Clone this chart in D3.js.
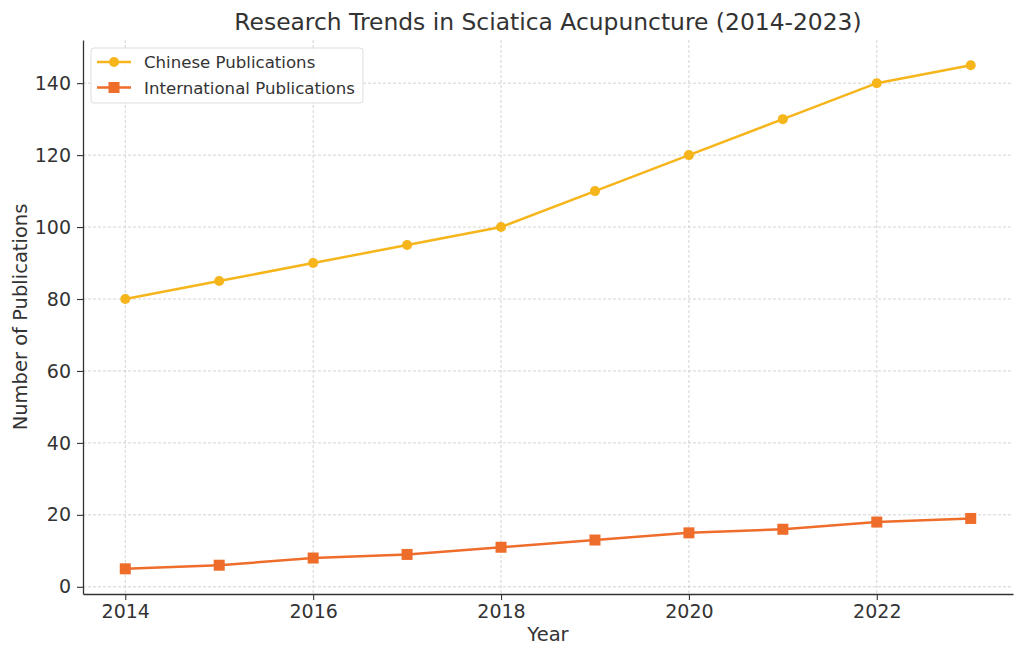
<!DOCTYPE html>
<html><head><meta charset="utf-8">
<script src="https://cdn.jsdelivr.net/npm/d3@7"></script>
<style>
body{margin:0;background:#fff;}
text{font-family:"DejaVu Sans",sans-serif;}
</style></head>
<body><svg id="c" width="1024" height="658"></svg>
<script>
const years = [2014,2015,2016,2017,2018,2019,2020,2021,2022,2023];
const chinese = [80,85,90,95,100,110,120,130,140,145];
const international = [5,6,8,9,11,13,15,16,18,19];
const xTicks = [2014,2016,2018,2020,2022];
const yTicks = [0,20,40,60,80,100,120,140];
const seriesNames = ["Chinese Publications","International Publications"];
const colors = ["#F5B51B","#EE6D2B"];

const svg = d3.select("#c");
const L=83,R=1013,T=40,B=594;
const x = d3.scaleLinear().domain([2014-0.45,2023+0.45]).range([L,R]);
const y = d3.scaleLinear().domain([-2,152]).range([B,T]);
const txt="#333";

// grid
svg.append("g").selectAll("line").data(xTicks).join("line")
  .attr("x1",d=>x(d)).attr("x2",d=>x(d)).attr("y1",T).attr("y2",B)
  .attr("stroke","#c8c8c8").attr("stroke-width",0.8).attr("stroke-dasharray","3,2");
svg.append("g").selectAll("line").data(yTicks).join("line")
  .attr("y1",d=>y(d)).attr("y2",d=>y(d)).attr("x1",L).attr("x2",R)
  .attr("stroke","#c8c8c8").attr("stroke-width",0.8).attr("stroke-dasharray","3,2");

// axes
const xa = svg.append("g").attr("transform",`translate(0,${B})`)
  .call(d3.axisBottom(x).tickValues(xTicks).tickFormat(d3.format("d")).tickSize(6).tickPadding(5).tickSizeOuter(0));
const ya = svg.append("g").attr("transform",`translate(${L},0)`)
  .call(d3.axisLeft(y).tickValues(yTicks).tickSize(6).tickPadding(6).tickSizeOuter(0));
[xa,ya].forEach(a=>{
  a.attr("font-size",null).attr("font-family",null);
  a.select(".domain").attr("stroke","#333").attr("stroke-width",1.3);
  a.selectAll(".tick line").attr("stroke","#333").attr("stroke-width",1.1);
  a.selectAll(".tick text").attr("fill",txt).style("font-size","19px");
});

// lines
const data=[chinese,international];
data.forEach((vals,i)=>{
  const pts = years.map((yr,j)=>[yr,vals[j]]);
  svg.append("path").datum(pts)
    .attr("d",d3.line().x(d=>x(d[0])).y(d=>y(d[1])))
    .attr("fill","none").attr("stroke",colors[i]).attr("stroke-width",2.5);
  if(i===0){
    svg.append("g").selectAll("circle").data(pts).join("circle")
      .attr("cx",d=>x(d[0])).attr("cy",d=>y(d[1])).attr("r",5).attr("fill",colors[i]);
  } else {
    svg.append("g").selectAll("rect").data(pts).join("rect")
      .attr("x",d=>x(d[0])-5.5).attr("y",d=>y(d[1])-5.5).attr("width",11).attr("height",11).attr("fill",colors[i]);
  }
});

// title & labels
svg.append("text").attr("x",548).attr("y",30).attr("text-anchor","middle")
  .attr("fill",txt).style("font-size","23.4px").text("Research Trends in Sciatica Acupuncture (2014-2023)");
svg.append("text").attr("x",(L+R)/2).attr("y",641).attr("text-anchor","middle")
  .attr("fill",txt).style("font-size","19.5px").text("Year");
svg.append("text").attr("transform",`translate(27,${(T+B)/2}) rotate(-90)`).attr("text-anchor","middle")
  .attr("fill",txt).style("font-size","19.5px").text("Number of Publications");

// legend
const lg = svg.append("g");
lg.append("rect").attr("x",91).attr("y",48).attr("width",272).attr("height",55).attr("rx",3)
  .attr("fill","#fff").attr("fill-opacity",0.85).attr("stroke","#ddd").attr("stroke-width",1);
seriesNames.forEach((n,i)=>{
  const yy=62+i*25.5;
  lg.append("line").attr("x1",97).attr("x2",131).attr("y1",yy).attr("y2",yy).attr("stroke",colors[i]).attr("stroke-width",2.5);
  if(i===0) lg.append("circle").attr("cx",114).attr("cy",yy).attr("r",5).attr("fill",colors[i]);
  else lg.append("rect").attr("x",108.5).attr("y",yy-5.5).attr("width",11).attr("height",11).attr("fill",colors[i]);
  lg.append("text").attr("x",144).attr("y",yy+6).attr("fill",txt).style("font-size","16.6px").text(n);
});
</script></body></html>
